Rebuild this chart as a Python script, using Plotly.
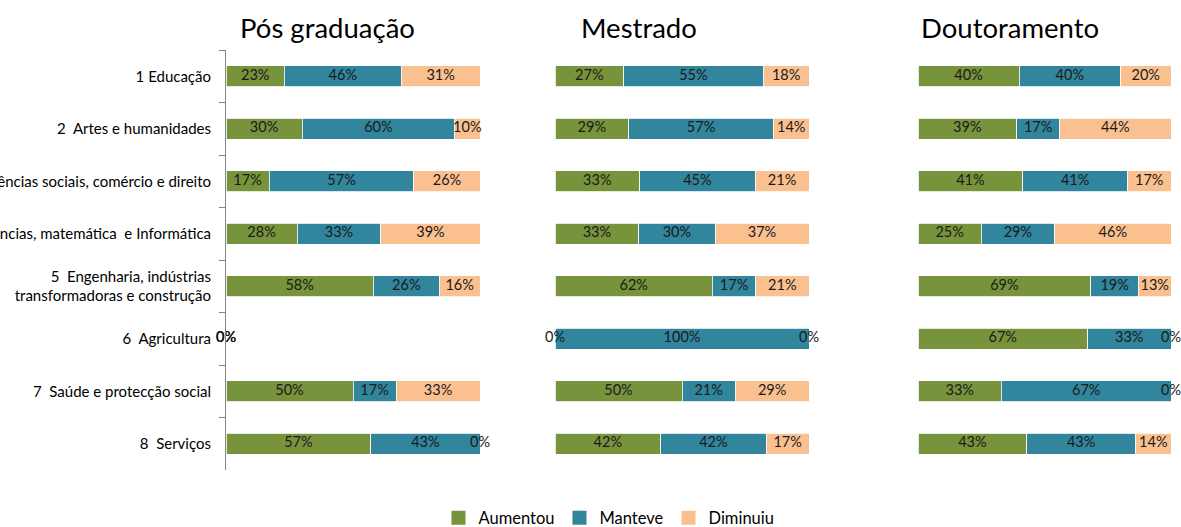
import plotly.graph_objects as go

categories = [
    "1 Educação",
    "2  Artes e humanidades",
    "3  Ciências sociais, comércio e direito",
    "4  Ciências, matemática  e Informática",
    "5  Engenharia, indústrias<br>transformadoras e construção",
    "6  Agricultura",
    "7  Saúde e protecção social",
    "8  Serviços",
]
series_names = ["Aumentou", "Manteve", "Diminuiu"]
panel_titles = ["Pós graduação", "Mestrado", "Doutoramento"]

pos_aumentou = [23, 30, 17, 28, 58, 0, 50, 57]
pos_manteve = [46, 60, 57, 33, 26, 0, 17, 43]
pos_diminuiu = [31, 10, 26, 39, 16, 0, 33, 0]

mes_aumentou = [27, 29, 33, 33, 62, 0, 50, 42]
mes_manteve = [55, 57, 45, 30, 17, 100, 21, 42]
mes_diminuiu = [18, 14, 21, 37, 21, 0, 29, 17]

dou_aumentou = [40, 39, 41, 25, 69, 67, 33, 43]
dou_manteve = [40, 17, 41, 29, 19, 33, 67, 43]
dou_diminuiu = [20, 44, 17, 46, 13, 0, 0, 14]

colors = ["#77933C", "#31859C", "#FAC090"]

panels = [
    [pos_aumentou, pos_manteve, pos_diminuiu],
    [mes_aumentou, mes_manteve, mes_diminuiu],
    [dou_aumentou, dou_manteve, dou_diminuiu],
]

W, H = 1181, 527
ml, mr, mt, mb = 226, 10, 50, 57
pw = W - ml - mr
ph = H - mt - mb

def px_x(p):
    return (p - ml) / pw

domains = [[0, px_x(480)], [px_x(555), px_x(809)], [px_x(918), 1.0]]

FONT = "Lato"
fig = go.Figure()

for pi, series in enumerate(panels):
    xa = "x" if pi == 0 else f"x{pi+1}"
    ya = "y" if pi == 0 else f"y{pi+1}"
    n = len(categories)
    totals = [sum(s[i] for s in series) for i in range(n)]
    norm = [[(s[i] / totals[i] * 100 if totals[i] > 0 else 0) for i in range(n)] for s in series]
    cum = [0.0] * n
    for si, (vals, nv) in enumerate(zip(series, norm)):
        fig.add_trace(go.Bar(
            y=categories, x=nv, orientation="h", name=series_names[si],
            marker=dict(color=colors[si], line=dict(color="white", width=0.8)),
            width=0.4, xaxis=xa, yaxis=ya, showlegend=False,
            hoverinfo="skip",
        ))
        mids = [cum[i] + nv[i] / 2 for i in range(n)]
        fig.add_trace(go.Scatter(
            y=categories, x=mids, mode="text",
            text=[f"{v}%" for v in vals], textposition="middle center",
            textfont=dict(family=FONT, size=14.5, color="#1a1a1a"),
            xaxis=xa, yaxis=ya, showlegend=False, cliponaxis=False, hoverinfo="skip",
        ))
        cum = [cum[i] + nv[i] for i in range(n)]

# legend entries (square swatches)
for si, nm in enumerate(series_names):
    fig.add_trace(go.Scatter(
        x=[None], y=[None], mode="markers", name=nm,
        marker=dict(symbol="square", size=14, color=colors[si]),
        showlegend=True, hoverinfo="skip",
    ))

layout = dict(
    width=W, height=H, barmode="stack",
    margin=dict(l=ml, r=mr, t=mt, b=mb, autoexpand=False),
    plot_bgcolor="white", paper_bgcolor="white",
    font=dict(family=FONT, size=15, color="#000000"),
    legend=dict(orientation="h", x=px_x(609), xanchor="center",
                y=-(518 - (H - mb)) / ph, yanchor="middle",
                font=dict(family=FONT, size=16.5, color="#000000"),
                traceorder="normal", itemwidth=30, itemsizing="trace"),
)
for pi in range(3):
    sx = "" if pi == 0 else str(pi + 1)
    layout[f"xaxis{sx}"] = dict(domain=domains[pi], range=[0, 100], visible=False,
                                 anchor=f"y{sx}")
    yax = dict(autorange="reversed", anchor=f"x{sx}", type="category",
               categoryorder="array", categoryarray=categories)
    if pi == 0:
        yax.update(showline=True, linecolor="#868686", linewidth=1,
                   ticks="outside", ticklen=6, tickcolor="#868686",
                   tickson="boundaries", automargin=False,
                   ticklabelstandoff=11,
                   tickfont=dict(family=FONT, size=15, color="#000000"),
                   showgrid=False, zeroline=False)
    else:
        yax.update(matches="y", showticklabels=False, showline=False,
                   showgrid=False, zeroline=False, ticks="")
    layout[f"yaxis{sx}"] = yax

fig.update_layout(**layout)

title_x = [327, 639, 1010]
for t, xc in zip(panel_titles, title_x):
    fig.add_annotation(text=t, xref="paper", yref="paper", x=px_x(xc),
                       y=(H - mb - 28) / ph, xanchor="center", yanchor="middle",
                       showarrow=False, font=dict(family=FONT, size=27.5, color="#000000"))

fig.write_html("out.html")
